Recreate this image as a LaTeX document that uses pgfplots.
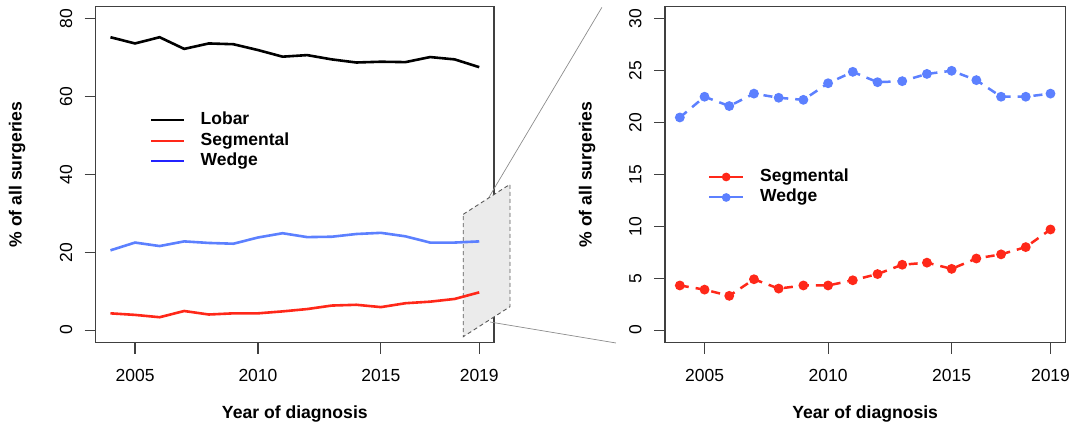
\documentclass[border=0pt]{standalone}
\usepackage{fontspec}
\setmainfont{Liberation Sans}
\usepackage{pgfplots}
\usepackage{pgfplotstable}
\pgfplotsset{compat=1.18}
\definecolor{sred}{RGB}{255,40,25}
\definecolor{wblue}{RGB}{92,128,255}
\definecolor{lblue}{RGB}{35,35,255}
\definecolor{boxc}{RGB}{64,64,64}

\pgfplotstableread{
year lobar seg wedge
2004 75.3 4.3 20.5
2005 73.7 3.9 22.5
2006 75.3 3.3 21.6
2007 72.3 4.9 22.8
2008 73.7 4.0 22.4
2009 73.5 4.3 22.2
2010 72.0 4.3 23.8
2011 70.3 4.8 24.9
2012 70.7 5.4 23.9
2013 69.6 6.3 24.0
2014 68.8 6.5 24.7
2015 69.0 5.9 25.0
2016 68.9 6.9 24.1
2017 70.2 7.3 22.5
2018 69.6 8.0 22.5
2019 67.6 9.7 22.8
}\data

\newcommand{\labfont}{\bfseries\fontsize{17.6}{18}\selectfont}
\pgfplotsset{
  myax/.style={
    scale only axis, height=336pt,
    xmin=2003.4, xmax=2019.6,
    xtick={2005,2010,2015,2019},
    tick align=outside, tick pos=left, major tick length=11pt,
    axis line style={boxc, line width=1.1pt},
    every tick/.style={boxc, line width=1.1pt},
    /pgf/number format/assume math mode=true,
    /pgf/number format/1000 sep={},
    ticklabel style={font=\fontsize{17.5}{17.5}\selectfont},
    yticklabel style={rotate=90, anchor=south},
    xticklabel style={anchor=north},
    xticklabel shift=12pt, yticklabel shift=9pt,
    xlabel={Year of diagnosis}, ylabel={\% of all surgeries},
    every axis x label/.style={at={(axis description cs:0.5,-0.2128)}, anchor=center, font=\labfont},
    legend cell align=left,
  }
}

\begin{document}
\begin{tikzpicture}
\useasboundingbox (0pt,0pt) rectangle (1073pt,-428pt);
% left panel
\begin{axis}[myax, clip=false,
  at={(95.7pt,-342.5pt)}, anchor=south west, width=398.3pt,
  ymin=-3.2, ymax=83.2, ytick={0,20,40,60,80},
  every axis y label/.style={at={(axis description cs:-0.1976,0.5)}, rotate=90, anchor=center, font=\labfont},
  legend image code/.code={\draw[#1] (0pt,0pt) -- (33pt,0pt);},
  legend style={at={(0.1363,0.687)}, anchor=north west, draw=none, fill=none,
    inner sep=0pt, column sep=15.7pt, row sep=3.5pt,
    nodes={inner sep=0pt, text height=13pt, text depth=4pt},
    font=\bfseries\fontsize{17.5}{18}\selectfont},
]
\fill[black!8] (axis cs:2018.35,29.77) -- (axis cs:2020.25,37.48) -- (axis cs:2020.25,6.01) -- (axis cs:2018.35,-1.71) -- cycle;
\draw[black!65, line width=0.9pt, dash pattern=on 4pt off 3pt] (axis cs:2018.35,29.77) -- (axis cs:2020.25,37.48) -- (axis cs:2020.25,6.01) -- (axis cs:2018.35,-1.71) -- cycle;
\draw[black!45, line width=0.7pt] (axis cs:2019.37,33.88) -- (axis cs:2023.99,83.0);
\draw[black!45, line width=0.7pt] (axis cs:2019.44,2.07) -- (axis cs:2024.56,-3.32);
\addplot[black, line width=2.6pt, forget plot] table[x=year,y=lobar]{\data};
\addplot[sred, line width=2.6pt, forget plot] table[x=year,y=seg]{\data};
\addplot[wblue, line width=2.6pt, forget plot] table[x=year,y=wedge]{\data};
\addlegendimage{black, line width=1.8pt}
\addlegendentry{Lobar}
\addlegendimage{sred, line width=1.8pt}
\addlegendentry{Segmental}
\addlegendimage{lblue, line width=1.8pt}
\addlegendentry{Wedge}
\end{axis}
% right panel
\begin{axis}[myax,
  at={(665pt,-342.5pt)}, anchor=south west, width=400.3pt,
  ymin=-1.2, ymax=31.2, ytick={0,5,10,15,20,25,30},
  every axis y label/.style={at={(axis description cs:-0.1949,0.5)}, rotate=90, anchor=center, font=\labfont},
  legend image code/.code={\draw[#1, mark repeat=2, mark phase=2] plot coordinates {(0pt,0pt) (17pt,0pt) (34pt,0pt)};},
  legend style={at={(0.1074,0.5185)}, anchor=north west, draw=none, fill=none,
    inner sep=0pt, column sep=16pt, row sep=3.5pt,
    nodes={inner sep=0pt, text height=13pt, text depth=4pt},
    font=\bfseries\fontsize{17.5}{18}\selectfont},
]
\addplot[sred, line width=2.5pt, dash pattern=on 9pt off 7pt, mark=*, mark size=3.6pt, mark options={solid}, forget plot] table[x=year,y=seg]{\data};
\addplot[wblue, line width=2.5pt, dash pattern=on 9pt off 7pt, mark=*, mark size=3.6pt, mark options={solid}, forget plot] table[x=year,y=wedge]{\data};
\addlegendimage{sred, solid, line width=2pt, mark=*, mark size=3.3pt}
\addlegendentry{Segmental}
\addlegendimage{wblue, solid, line width=2pt, mark=*, mark size=3.3pt}
\addlegendentry{Wedge}
\end{axis}
\end{tikzpicture}
\end{document}
